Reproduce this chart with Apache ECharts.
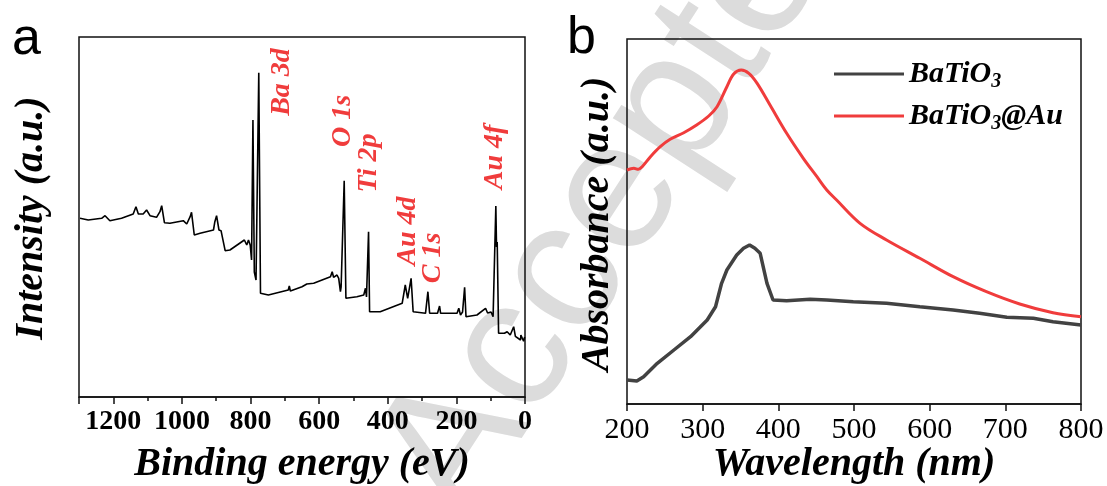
<!DOCTYPE html>
<html>
<head>
<meta charset="utf-8">
<script src="https://cdn.jsdelivr.net/npm/echarts@6/dist/echarts.min.js"></script>
<style>
html,body{margin:0;padding:0;background:#fff;}
#chart{width:1107px;height:486px;}
</style>
</head>
<body>
<div id="chart"></div>
<script>
// ---- Panel a: XPS survey (binding energy in eV, intensity in arbitrary units) ----
const xpsBindingEnergy = [1297,1273,1234,1224,1210,1176,1142,1134,1127,1113,1103,1093,1074,1064,1059,1051,1035,996,986,976,972,964,947,908,904,899,892,886,874,860,818,811,806,801,797,793,789,784,776,771,748,690,687,684,650,636,616,567,562,558,548,543,538,536,531,527,522,490,470,465,462,456,453,422,358,349,342,332,326,290,283,278,255,249,246,198,193,188,182,176,172,140,115,109,99,93,85,83,81,77,60,52,43,33,28,13,12,4,1];
const xpsIntensity     = [178.7,177,178.7,181.3,176.3,178.7,183,190.3,183,183,187,181.3,179.7,185.3,191.3,174.3,173.7,176.3,173,180.3,184.7,162,163.7,167,175.3,181.3,167,166.3,146.3,147,157,152,157,152,137,277,125,117,324.3,103.7,102,107,111,106,110.3,113,113.7,120.3,125.3,119.7,122,118.7,105.3,110,108,216.3,98.7,100.3,102,108.7,100,165.3,85.3,85.3,93.7,112,98.7,118.7,85.3,83.7,105.3,83.7,83.7,91,83.7,83.7,88.7,82,85,109.7,80.3,82,88.7,84,85,80.3,191,150,155,63.7,63.7,65.3,62,70.3,60.7,57,62,55.7,60];
const peakNames     = ['Ba 3d','O 1s','Ti 2p','Au 4d','C 1s','Au 4f'];
const peakLabelBE   = [710,531,455,341,268,88];
const peakLabelY    = [315,276,234,166,139,240];
const xpsTickValues = [1200,1000,800,600,400,200,0];

// ---- Panel b: UV-vis absorbance ----
const uvWavelengthBT = [200,213,222,240,262,284,306,317,325,332,345,354,362,369,376,385,393,411,442,464,499,543,587,631,666,702,737,763,800];
const uvAbsorbanceBT = [24,23,27.3,40.7,54,67.3,84,97.3,120.7,134,149,155.7,159,155.7,150.7,120.7,104,103.3,104.7,104,102.3,100.7,97.3,94,90.7,86.7,85.7,82.3,79];
const uvWavelengthAu = [200,209,215,220,231,244,257,275,292,308,319,332,341,351,361,372,389,411,433,451,464,477,508,543,587,631,675,719,763,800];
const uvAbsorbanceAu = [234,235.7,234.7,237.3,247.3,257.3,264.7,271.3,279,288,297.3,317.3,330,334,330.7,320.7,299,270.7,245.7,227.3,214,204,180.7,164,145.7,127.3,112.3,100,91.3,87.3];
const seriesNames = ['BaTiO3','BaTiO3@Au'];

const zip = (a, b) => a.map((v, i) => [v, b[i]]);
const SERIF = '"Liberation Serif","Times New Roman",serif';
const RED = '#f03c3c';
const GRAY = '#424242';

const chart = echarts.init(document.getElementById('chart'), null, {renderer: 'canvas'});

const option = {
  animation: false,
  backgroundColor: '#fff',
  grid: [
    {left: 79, top: 37, width: 446, height: 360, show: true, borderColor: '#111', borderWidth: 1.5, backgroundColor: 'transparent', z: 1},
    {left: 627, top: 39, width: 454, height: 365, show: true, borderColor: '#111', borderWidth: 1.5, backgroundColor: 'transparent', z: 1}
  ],
  xAxis: [
    {gridIndex: 0, type: 'value', min: 0, max: 1300, inverse: true, interval: 100,
     axisLine: {show: true, lineStyle: {color: '#111', width: 1.5}},
     axisTick: {show: true, inside: false, length: 4, lineStyle: {color: '#111', width: 1.5}},
     axisLabel: {show: false}, splitLine: {show: false}},
    {gridIndex: 0, type: 'value', min: 0, max: 1300, inverse: true, interval: 200, position: 'bottom',
     axisLine: {show: false},
     axisTick: {show: true, inside: false, length: 7, lineStyle: {color: '#111', width: 1.5}},
     axisLabel: {show: true, margin: 11, fontFamily: SERIF, fontWeight: 'bold', fontSize: 28, color: '#000',
       formatter: v => (xpsTickValues.indexOf(v) >= 0 ? String(v) : '')},
     splitLine: {show: false}},
    {gridIndex: 1, type: 'value', min: 200, max: 800, interval: 100,
     axisLine: {show: true, lineStyle: {color: '#111', width: 1.5}},
     axisTick: {show: true, inside: false, length: 7, lineStyle: {color: '#111', width: 1.5}},
     axisLabel: {show: true, margin: 11, fontFamily: SERIF, fontSize: 30, color: '#000'},
     splitLine: {show: false}}
  ],
  yAxis: [
    {gridIndex: 0, type: 'value', min: 0, max: 360, axisLine: {show: false}, axisTick: {show: false}, axisLabel: {show: false}, splitLine: {show: false}},
    {gridIndex: 1, type: 'value', min: 0, max: 365, axisLine: {show: false}, axisTick: {show: false}, axisLabel: {show: false}, splitLine: {show: false}}
  ],
  legend: {
    data: seriesNames,
    orient: 'vertical',
    left: 829, top: 54,
    itemWidth: 70, itemHeight: 3, itemGap: 9,
    icon: 'rect',
    formatter: name => name === 'BaTiO3' ? '{b|BaTiO}{s|3}' : '{b|BaTiO}{s|3}{b|@Au}',
    textStyle: {
      color: '#000',
      rich: {
        b: {fontFamily: SERIF, fontWeight: 'bold', fontStyle: 'italic', fontSize: 30, lineHeight: 36, color: '#000'},
        s: {fontFamily: SERIF, fontWeight: 'bold', fontStyle: 'italic', fontSize: 20, lineHeight: 8, verticalAlign: 'bottom', color: '#000'}
      }
    }
  },
  series: [
    {name: 'XPS', type: 'line', xAxisIndex: 0, yAxisIndex: 0, data: zip(xpsBindingEnergy, xpsIntensity),
     showSymbol: false, symbol: 'none', lineStyle: {color: '#000', width: 1.6}, z: 3},
    {name: 'peaks', type: 'scatter', xAxisIndex: 0, yAxisIndex: 0, symbolSize: 0,
     itemStyle: {opacity: 1, color: RED},
     data: peakNames.map((n, i) => ({name: n, value: [peakLabelBE[i], peakLabelY[i]]})),
     label: {show: true, position: 'inside', rotate: 90, formatter: p => p.name, opacity: 1,
       fontFamily: SERIF, fontWeight: 'bold', fontStyle: 'italic', fontSize: 28, color: RED},
     z: 4, silent: true},
    {name: seriesNames[0], type: 'line', xAxisIndex: 2, yAxisIndex: 1, data: zip(uvWavelengthBT, uvAbsorbanceBT),
     showSymbol: false, symbol: 'none', color: GRAY, lineStyle: {color: GRAY, width: 3.5}, z: 3},
    {name: seriesNames[1], type: 'line', xAxisIndex: 2, yAxisIndex: 1, data: zip(uvWavelengthAu, uvAbsorbanceAu),
     showSymbol: false, symbol: 'none', smooth: 0.35, color: RED, lineStyle: {color: RED, width: 3}, z: 3}
  ],
  graphic: [
    {type: 'text', z: -100, x: 499, y: 549, rotation: 57 * Math.PI / 180, silent: true,
     style: {text: 'Accepted', fill: '#dcdcdc', font: '185px "Liberation Sans", Arial, sans-serif', textAlign: 'left', textVerticalAlign: 'bottom'}},
    {type: 'text', z: 10, x: 12, y: 40, style: {text: 'a', fill: '#000', font: '52px "Liberation Sans", Arial, sans-serif', textAlign: 'left', textVerticalAlign: 'middle'}},
    {type: 'text', z: 10, x: 567, y: 39, style: {text: 'b', fill: '#000', font: '52px "Liberation Sans", Arial, sans-serif', textAlign: 'left', textVerticalAlign: 'middle'}},
    {type: 'text', z: 10, x: 302, y: 465, style: {text: 'Binding energy (eV)', fill: '#000', font: 'italic bold 40px "Liberation Serif", serif', textAlign: 'center', textVerticalAlign: 'middle'}},
    {type: 'text', z: 10, x: 854, y: 465, style: {text: 'Wavelength (nm)', fill: '#000', font: 'italic bold 40px "Liberation Serif", serif', textAlign: 'center', textVerticalAlign: 'middle'}},
    {type: 'text', z: 10, x: 32, y: 218, rotation: Math.PI / 2, style: {text: 'Intensity (a.u.)', fill: '#000', font: 'italic bold 40px "Liberation Serif", serif', textAlign: 'center', textVerticalAlign: 'middle'}},
    {type: 'text', z: 10, x: 598, y: 224, rotation: Math.PI / 2, style: {text: 'Absorbance (a.u.)', fill: '#000', font: 'italic bold 40px "Liberation Serif", serif', textAlign: 'center', textVerticalAlign: 'middle'}}
  ]
};
chart.setOption(option);
</script>
</body>
</html>
